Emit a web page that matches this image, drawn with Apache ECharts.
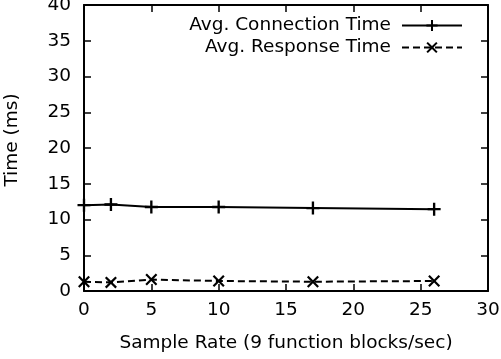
<!DOCTYPE html>
<html><head><meta charset="utf-8">
<script src="https://cdn.jsdelivr.net/npm/echarts@6/dist/echarts.min.js"></script>
<style>html,body{margin:0;padding:0;background:#fff}#c{width:501px;height:359px}</style>
</head><body><div id="c"></div>
<script>
const sampleRates = [0, 2, 5, 10, 17, 26];
const connectionTime = [12.0, 12.1, 11.75, 11.75, 11.6, 11.45];
const responseTime = [1.3, 1.2, 1.6, 1.4, 1.3, 1.4];
const seriesNames = ['Avg. Connection Time', 'Avg. Response Time'];
const xTitle = 'Sample Rate (9 function blocks/sec)';
const yTitle = 'Time (ms)';

const FONT = 'DejaVu Sans';
const FS = 18.5;
const plusPath = 'path://M0,4.1L10,4.1L10,5.9L0,5.9Z M4.1,0L5.9,0L5.9,10L4.1,10Z';
const crossPath = 'path://M0,1.3L1.3,0L5,3.7L8.7,0L10,1.3L6.3,5L10,8.7L8.7,10L5,6.3L1.3,10L0,8.7L3.7,5Z';

const chart = echarts.init(document.getElementById('c'));
const axisBase = {
  type: 'value',
  axisLine: { show: true, onZero: false, lineStyle: { color: '#000', width: 2 } },
  axisTick: { show: true, inside: true, length: 7, lineStyle: { color: '#000', width: 1.5 } },
  splitLine: { show: false }
};
chart.setOption({
  animation: false,
  backgroundColor: '#fff',
  grid: { left: 84, right: 13, top: 5, bottom: 68, containLabel: false, outerBoundsMode: 'none' },
  legend: {
    orient: 'vertical', align: 'right', right: 33, top: 11,
    itemWidth: 60, itemHeight: 14, itemGap: 3,
    textStyle: { fontFamily: FONT, fontSize: FS, color: '#000', padding: [0, 6, 0, 0], lineHeight: 18 },
    data: seriesNames
  },
  xAxis: [
    Object.assign({}, axisBase, {
      min: 0, max: 30, interval: 5, position: 'bottom',
      name: xTitle, nameLocation: 'middle', nameGap: 43,
      nameTextStyle: { fontFamily: FONT, fontSize: FS, color: '#000' },
      axisLabel: { fontFamily: FONT, fontSize: FS, color: '#000', margin: 10 }
    }),
    Object.assign({}, axisBase, {
      min: 0, max: 30, interval: 5, position: 'top', axisLabel: { show: false }
    })
  ],
  yAxis: [
    Object.assign({}, axisBase, {
      min: 0, max: 40, interval: 5, position: 'left',
      name: yTitle, nameLocation: 'middle', nameGap: 62,
      nameTextStyle: { fontFamily: FONT, fontSize: FS, color: '#000', padding: [0, 0, 0, 16] },
      axisLabel: { fontFamily: FONT, fontSize: FS, color: '#000', margin: 13 }
    }),
    Object.assign({}, axisBase, {
      min: 0, max: 40, interval: 5, position: 'right', axisLabel: { show: false }
    })
  ],
  series: [
    {
      name: seriesNames[0], type: 'line', xAxisIndex: 0, yAxisIndex: 0,
      data: sampleRates.map((x, i) => [x, connectionTime[i]]),
      symbol: plusPath, symbolSize: [13, 13], showAllSymbol: true,
      lineStyle: { color: '#000', width: 2, type: 'solid' },
      itemStyle: { color: '#000' }
    },
    {
      name: seriesNames[1], type: 'line', xAxisIndex: 0, yAxisIndex: 0,
      data: sampleRates.map((x, i) => [x, responseTime[i]]),
      symbol: crossPath, symbolSize: [12, 12], showAllSymbol: true,
      lineStyle: { color: '#000', width: 2, type: [7, 4] },
      itemStyle: { color: '#000' }
    }
  ]
});
</script></body></html>
